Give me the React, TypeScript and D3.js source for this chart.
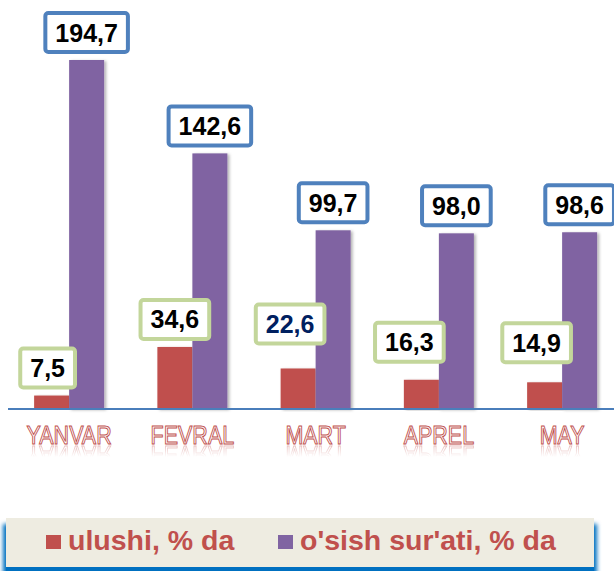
import { Component, createRef } from "react";
import * as d3 from "d3";

// data
const months = ["YANVAR", "FEVRAL", "MART", "APREL", "MAY"];
const ulushi = [7.5, 34.6, 22.6, 16.3, 14.9];
const osishSurati = [194.7, 142.6, 99.7, 98.0, 98.6];
const seriesNames = ["ulushi, % da", "o'sish sur'ati, % da"];

const W = 614;
const H = 571;
const barColors = ["#C0504D", "#8064A2"];
const boxColors = ["#C3D69B", "#4F81BD"];
const font = "'Liberation Sans', Arial, sans-serif";

const fmt = (v: number) => d3.format(".1f")(v).replace(".", ",");

class App extends Component {
    svgRef = createRef<SVGSVGElement>();

    componentDidMount() {
        document.body.style.margin = "0";
        this.draw();
    }

    draw() {
        const svg = d3.select(this.svgRef.current);
        svg.selectAll("*").remove();

        const defs = svg.append("defs");
        defs.append("filter")
            .attr("id", "bar-shadow")
            .attr("x", "-20%").attr("y", "-5%").attr("width", "150%").attr("height", "110%")
            .append("feDropShadow")
            .attr("dx", 2).attr("dy", 1).attr("stdDeviation", 1.5)
            .attr("flood-color", "#000").attr("flood-opacity", 0.3);
        defs.append("filter")
            .attr("id", "legend-glow")
            .attr("x", "-5%").attr("y", "-20%").attr("width", "110%").attr("height", "140%")
            .append("feGaussianBlur")
            .attr("stdDeviation", 2.2);

        const baseY = 409;
        const x = d3.scaleBand()
            .domain(months)
            .range([7.5, 623.75])
            .paddingInner(0.432)
            .paddingOuter(0.216);
        const xs = d3.scaleBand()
            .domain(["0", "1"])
            .range([0, x.bandwidth()]);
        const y = d3.scaleLinear()
            .domain([0, 200])
            .range([baseY, 50.5]);

        const bars = months.flatMap((m, i) => [
            { month: m, s: 0, value: ulushi[i], idx: i },
            { month: m, s: 1, value: osishSurati[i], idx: i }
        ]);

        svg.append("g")
            .selectAll("rect")
            .data(bars)
            .join("rect")
            .attr("x", d => (x(d.month) as number) + (xs(String(d.s)) as number))
            .attr("y", d => y(d.value))
            .attr("width", xs.bandwidth())
            .attr("height", d => baseY - y(d.value))
            .attr("fill", d => barColors[d.s])
            .attr("filter", "url(#bar-shadow)");

        // x axis line
        svg.append("line")
            .attr("x1", 8).attr("x2", W)
            .attr("y1", baseY).attr("y2", baseY)
            .attr("stroke", "#4A7EBB")
            .attr("stroke-width", 2);

        // category labels with reflection
        const grad = defs.append("linearGradient")
            .attr("id", "refl-grad")
            .attr("gradientUnits", "userSpaceOnUse")
            .attr("x1", 0).attr("x2", 0)
            .attr("y1", 445).attr("y2", 457);
        grad.append("stop").attr("offset", 0).attr("stop-color", "#fff").attr("stop-opacity", 0.4);
        grad.append("stop").attr("offset", 1).attr("stop-color", "#fff").attr("stop-opacity", 0);
        defs.append("mask")
            .attr("id", "refl-mask")
            .attr("maskUnits", "userSpaceOnUse")
            .attr("x", 0).attr("y", 0).attr("width", W).attr("height", H)
            .append("rect")
            .attr("x", 0).attr("y", 440).attr("width", W).attr("height", 30)
            .attr("fill", "url(#refl-grad)");

        const drawCats = (g: any) => g.selectAll("text")
            .data(months)
            .join("text")
            .attr("transform", (d: string) =>
                `translate(${(x(d) as number) + x.bandwidth() / 2}, 444) scale(0.86, 1)`)
            .attr("text-anchor", "middle")
            .attr("font-family", font)
            .attr("font-size", 25)
            .attr("fill", "#fff")
            .attr("stroke", "#C0504D")
            .attr("stroke-width", 1)
            .text((d: string) => d);

        svg.append("g").call(drawCats);
        svg.append("g")
            .attr("mask", "url(#refl-mask)")
            .append("g")
            .attr("transform", "translate(0, 890) scale(1, -1)")
            .call(drawCats);

        // value labels in boxes
        const addLabel = (cx: number, bottom: number, txt: string, stroke: string, color: string) => {
            const g = svg.append("g");
            const t = g.append("text")
                .attr("x", cx)
                .attr("y", bottom - 21.5 + 9)
                .attr("text-anchor", "middle")
                .attr("font-family", font)
                .attr("font-weight", "bold")
                .attr("font-size", 25)
                .attr("fill", color)
                .text(txt);
            const tw = (t.node() as SVGTextElement).getComputedTextLength();
            g.insert("rect", "text")
                .attr("x", cx - (tw + 20) / 2)
                .attr("y", bottom - 41)
                .attr("width", tw + 20)
                .attr("height", 39)
                .attr("rx", 3)
                .attr("fill", "#fff")
                .attr("stroke", stroke)
                .attr("stroke-width", 4);
        };

        osishSurati.forEach((v, i) => {
            const cx = (x(months[i]) as number) + (xs("1") as number) + xs.bandwidth() / 2;
            addLabel(cx, y(v) - 6, fmt(v), boxColors[1], "#000");
        });

        // the ulushi labels were dragged by hand in the original
        const nudgeX = [-4, 0, -8, -12, -8];
        const liftY = [0, 0, 17, 10, 12];
        ulushi.forEach((v, i) => {
            const cx = (x(months[i]) as number) + (xs("0") as number) + xs.bandwidth() / 2 + nudgeX[i];
            addLabel(cx, y(v) - 6 - liftY[i], fmt(v), boxColors[0], i === 2 ? "#002060" : "#000");
        });

        // legend
        const lg = svg.append("g");
        lg.append("rect")
            .attr("x", 3).attr("y", 524).attr("width", 594).attr("height", 52)
            .attr("fill", "#0070C0")
            .attr("filter", "url(#legend-glow)");
        lg.append("rect")
            .attr("x", 6).attr("y", 518).attr("width", 588).attr("height", 49)
            .attr("fill", "#EEECE1");
        lg.append("rect")
            .attr("x", 6).attr("y", 567).attr("width", 588).attr("height", 6)
            .attr("fill", "#0070C0");

        const legendX = [46, 278];
        seriesNames.forEach((name, i) => {
            lg.append("rect")
                .attr("x", legendX[i]).attr("y", 535)
                .attr("width", 15).attr("height", 14)
                .attr("fill", barColors[i]);
            lg.append("text")
                .attr("x", legendX[i] + 22)
                .attr("y", 550)
                .attr("font-family", font)
                .attr("font-weight", "bold")
                .attr("font-size", 28.5)
                .attr("fill", "#C0504D")
                .text(name);
        });
    }

    render() {
        return (
            <svg ref={this.svgRef} width={W} height={H} style={{ display: "block" }}></svg>
        );
    }
}

export default App;
